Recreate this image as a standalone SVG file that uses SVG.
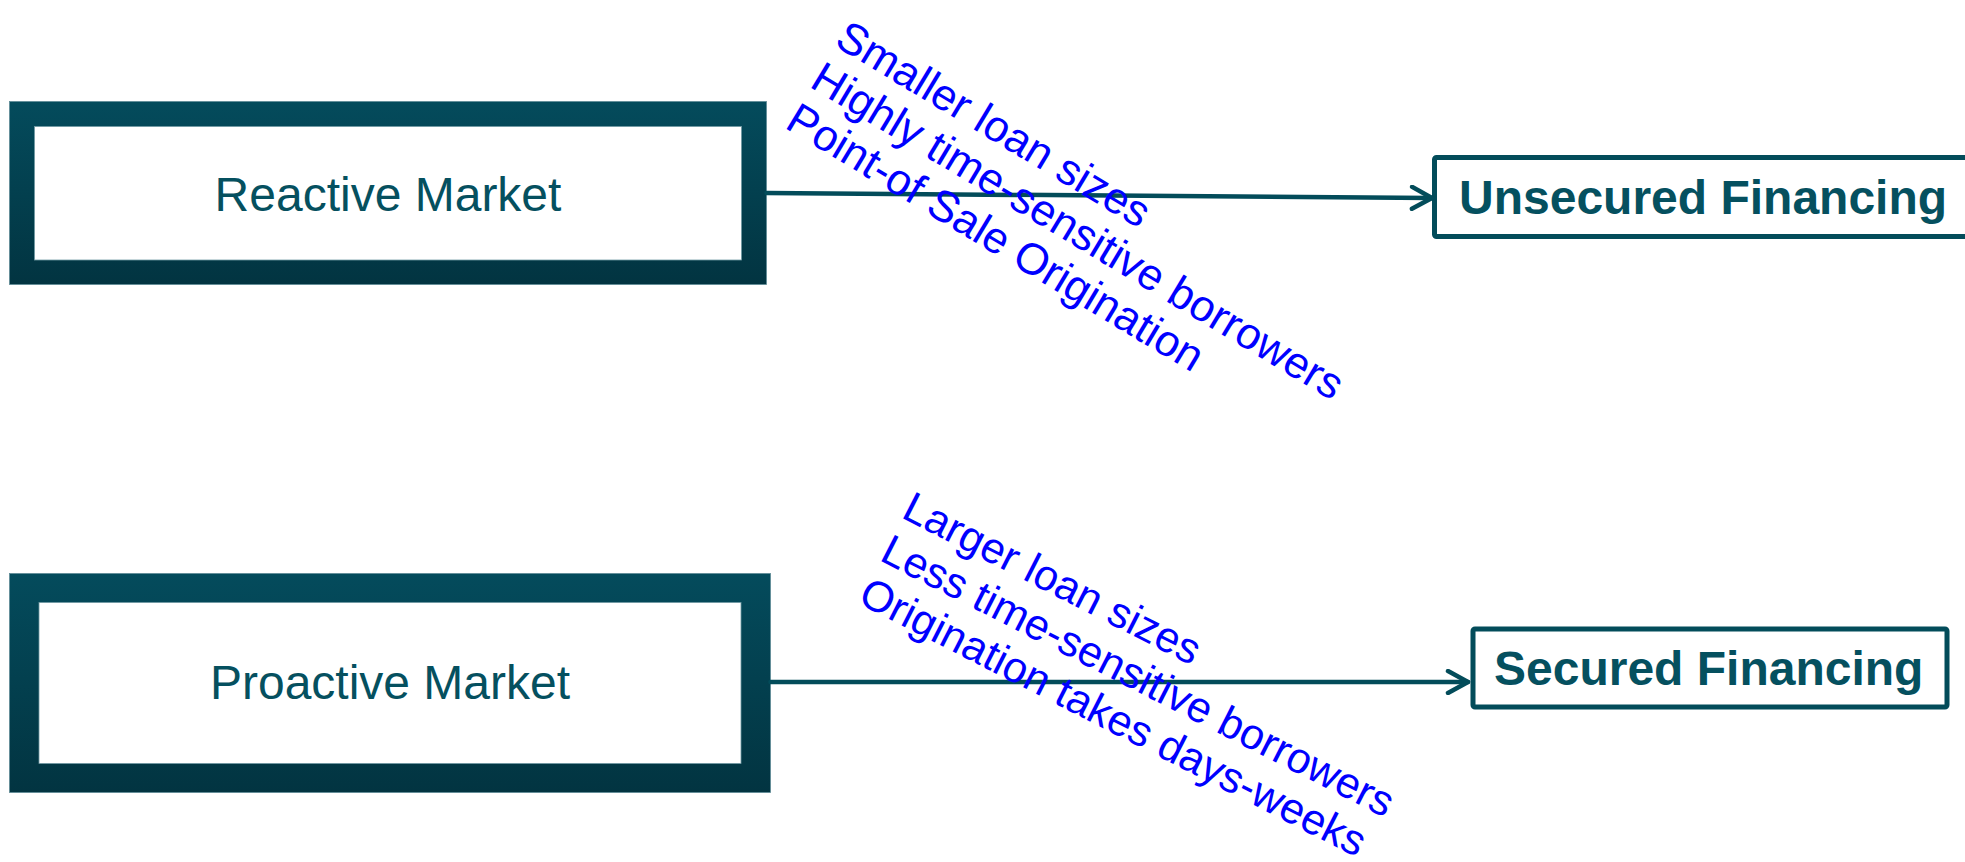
<svg xmlns="http://www.w3.org/2000/svg" width="1965" height="862" viewBox="0 0 1965 862">
<defs>
<linearGradient id="frame" x1="0" y1="0" x2="0" y2="1">
<stop offset="0" stop-color="#044b5c"/>
<stop offset="1" stop-color="#023441"/>
</linearGradient>
<marker id="arr" viewBox="0 0 26 26" refX="23" refY="13" markerWidth="26" markerHeight="26" markerUnits="userSpaceOnUse" orient="auto">
<path d="M3,2 L23,13 L3,24" fill="none" stroke="#034c5a" stroke-width="4.5" stroke-linecap="round" stroke-linejoin="round"/>
</marker>
<style>
.outer{fill:url(#frame);stroke:#5f8c97;stroke-width:0.8}
.inner{fill:#ffffff;stroke:#6f98a2;stroke-width:0.8}
.lbl{font-family:"Liberation Sans",Arial,sans-serif;font-size:48px;fill:#05505f}
.dest{fill:#ffffff;stroke:#034c5a;stroke-width:5}
.destlbl{font-family:"Liberation Sans",Arial,sans-serif;font-size:48px;font-weight:bold;fill:#05505f}
.conn{fill:none;stroke:#034c5a;stroke-width:4.5;stroke-linecap:round}
.note{font-family:"Liberation Sans",Arial,sans-serif;font-size:44px;fill:#0000ff}
.note2{font-family:"Liberation Sans",Arial,sans-serif;font-size:43px;fill:#0000ff}
</style>
</defs>
<g id="reactive">
<rect class="outer" x="9.5" y="101.5" width="757" height="183"/>
<rect class="inner" x="34.5" y="126.5" width="707" height="133.5"/>
<text class="lbl" x="388" y="211" text-anchor="middle">Reactive Market</text>
</g>
<g id="proactive">
<rect class="outer" x="9.5" y="573.5" width="761" height="219"/>
<rect class="inner" x="39" y="602.5" width="702" height="161"/>
<text class="lbl" x="390" y="699" text-anchor="middle">Proactive Market</text>
</g>
<g id="unsecured">
<rect class="dest" x="1434.5" y="157.5" width="560" height="79" rx="2"/>
<text class="destlbl" x="1459" y="214">Unsecured Financing</text>
</g>
<g id="secured">
<rect class="dest" x="1473" y="629" width="474" height="78" rx="2"/>
<text class="destlbl" x="1494" y="685">Secured Financing</text>
</g>
<g id="connectors">
<path class="conn" d="M766.5,193 L1432,198" marker-end="url(#arr)"/>
<path class="conn" d="M770.5,682 L1468,682" marker-end="url(#arr)"/>
</g>
<g id="reactive-notes" transform="translate(833,45) rotate(31)">
<text class="note" x="0" y="0">Smaller loan sizes</text>
<text class="note" x="0" y="48">Highly time-sensitive borrowers</text>
<text class="note" x="0" y="96">Point-of Sale Origination</text>
</g>
<g id="proactive-notes" transform="translate(900,517) rotate(27)">
<text class="note2" x="0" y="0">Larger loan sizes</text>
<text class="note2" x="0" y="48">Less time-sensitive borrowers</text>
<text class="note2" x="0" y="96">Origination takes days-weeks</text>
</g>
</svg>
